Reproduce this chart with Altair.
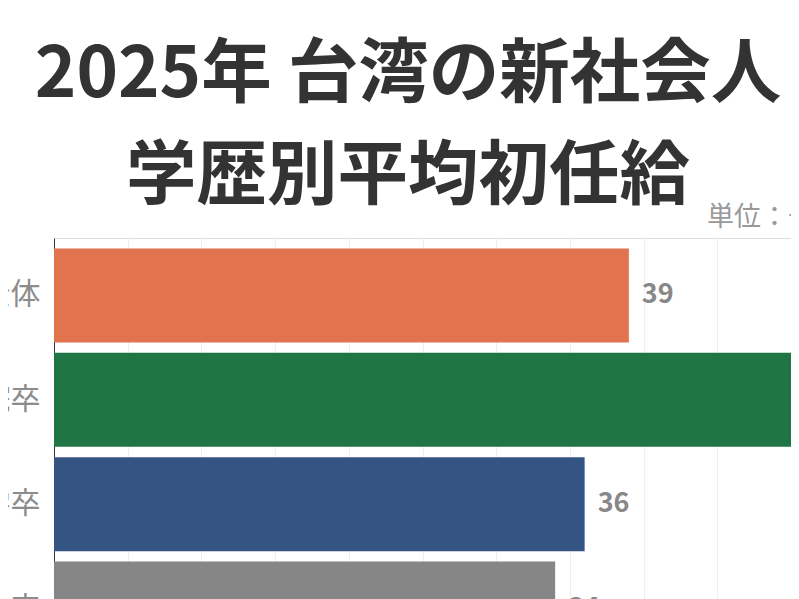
import altair as alt
import pandas as pd

categories = ["全体", "大学院卒", "大学卒", "専科卒"]
salaries = [39, 55, 36, 34]
colors = ["#E1734F", "#207545", "#345484", "#868686"]

unit_text = ["単位：千台湾ドル"]

df = pd.DataFrame({"cat": categories, "val": salaries, "color": colors})
unit_df = pd.DataFrame({"t": unit_text})

FONT = "Noto Sans CJK JP"

x = alt.X("val:Q", scale=alt.Scale(domain=[0, 50.0], nice=False, zero=True),
          axis=alt.Axis(values=[0, 5, 10, 15, 20, 25, 30, 35, 40, 45, 50],
                        labels=False, ticks=False, domain=False, title=None,
                        grid=True, gridColor="#efefef", gridWidth=1))
y = alt.Y("cat:N", sort=categories,
          scale=alt.Scale(paddingInner=0.1, paddingOuter=0.1),
          axis=alt.Axis(title=None, ticks=False, domain=True, domainColor="#333333",
                        domainWidth=1, labelFontSize=30, labelColor="#8c8c8c",
                        labelFont=FONT, labelPadding=14, grid=False))

bars = alt.Chart(df).mark_bar(clip=True).encode(
    x=x, y=y, color=alt.Color("color:N", scale=None, legend=None)
)

labels = alt.Chart(df).mark_text(
    align="left", baseline="middle", dx=13, fontSize=27, fontWeight="bold",
    color="#888888", font=FONT
).encode(x="val:Q", y=alt.Y("cat:N", sort=categories), text="val:Q")

unit = alt.Chart(unit_df).mark_text(
    align="left", baseline="alphabetic", fontSize=27, color="#999999", font=FONT
).encode(x=alt.value(653), y=alt.value(-12), text="t:N")

chart = alt.layer(bars, labels, unit).properties(
    width=737,
    height=428,
    padding={"left": 46, "top": 230, "right": 0, "bottom": 0},
    autosize=alt.AutoSizeParams(type="none"),
    title=alt.TitleParams(
        text=["2025年 台湾の新社会人", "学歴別平均初任給"],
        fontSize=70.5, fontWeight="bold", font=FONT, color="#333333",
        lineHeight=102, anchor="middle", dx=-14.5, dy=35, offset=26
    ),
).configure_view(stroke=None).configure(background="white")

chart.save("out.html", embed_options={"renderer": "svg", "actions": False})
